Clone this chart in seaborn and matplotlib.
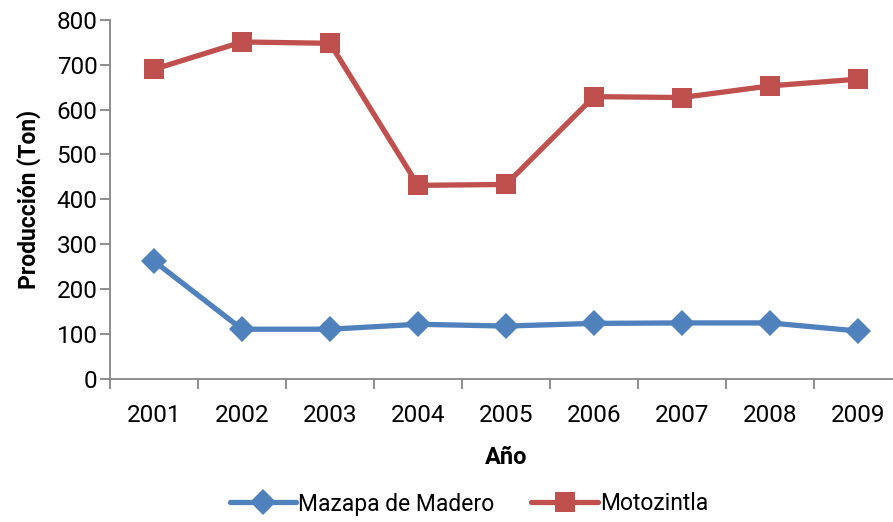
import pandas as pd
import seaborn as sns
import matplotlib.pyplot as plt
from matplotlib.ticker import FixedLocator, NullFormatter

years = ["2001", "2002", "2003", "2004", "2005", "2006", "2007", "2008", "2009"]
mazapa = [262, 110, 110, 121, 117, 123, 124, 124, 106]
motozintla = [690, 751, 748, 431, 433, 629, 627, 653, 668]
series_names = ["Mazapa de Madero", "Motozintla"]

df = pd.DataFrame({
    "idx": list(range(len(years))) * 2,
    "valor": mazapa + motozintla,
    "serie": [series_names[0]] * len(years) + [series_names[1]] * len(years),
})

sns.set_style("white")
plt.rcParams["font.family"] = ["Roboto", "DejaVu Sans"]
plt.rcParams["text.color"] = "black"
plt.rcParams["axes.labelcolor"] = "black"

fig = plt.figure(figsize=(8.93, 5.22), dpi=100)
ax = fig.add_axes([110 / 893, 1 - 378.5 / 522, 792 / 893, 358.5 / 522])

sns.lineplot(
    data=df, x="idx", y="valor", hue="serie", style="serie",
    palette={series_names[0]: "#4F81BD", series_names[1]: "#C0504D"},
    markers={series_names[0]: "D", series_names[1]: "s"},
    dashes=False, linewidth=3.8, markersize=14.5, markeredgewidth=0,
    ax=ax, legend=True,
)
for line in ax.lines:
    if line.get_marker() == "D":
        line.set_markersize(13)

ax.set_xlim(-0.5, len(years) - 0.5)
ax.set_ylim(0, 800)
ax.set_yticks(range(0, 801, 100))
ax.set_xticks(range(len(years)))
ax.set_xticklabels(years)
ax.xaxis.set_minor_locator(FixedLocator([i - 0.5 for i in range(len(years) + 1)]))
ax.xaxis.set_minor_formatter(NullFormatter())

gray = "#868686"
for side in ["top", "right"]:
    ax.spines[side].set_visible(False)
for side in ["left", "bottom"]:
    ax.spines[side].set_color(gray)
    ax.spines[side].set_linewidth(1.3)

ax.tick_params(axis="y", which="major", direction="out", length=7, width=1.3,
               color=gray, labelcolor="black", labelsize=17.5, left=True, pad=2)
ax.tick_params(axis="x", which="major", length=0, labelsize=17.5,
               labelcolor="black", pad=18)
ax.tick_params(axis="x", which="minor", direction="out", length=7, width=1.3,
               color=gray, bottom=True)

ax.set_xlabel("Año", fontsize=17, fontweight="bold", labelpad=14)
ax.set_ylabel("Producción (Ton)", fontsize=16.5, fontweight="bold", labelpad=11)

handles, labels = ax.get_legend_handles_labels()
ax.get_legend().remove()
fig.legend(handles, labels, loc="center", bbox_to_anchor=(469 / 893, 1 - 504 / 522),
           ncol=2, frameon=False, fontsize=16.5, handlelength=2.9,
           handletextpad=0.1, columnspacing=1.6)

fig.savefig("out.png", dpi=100)
